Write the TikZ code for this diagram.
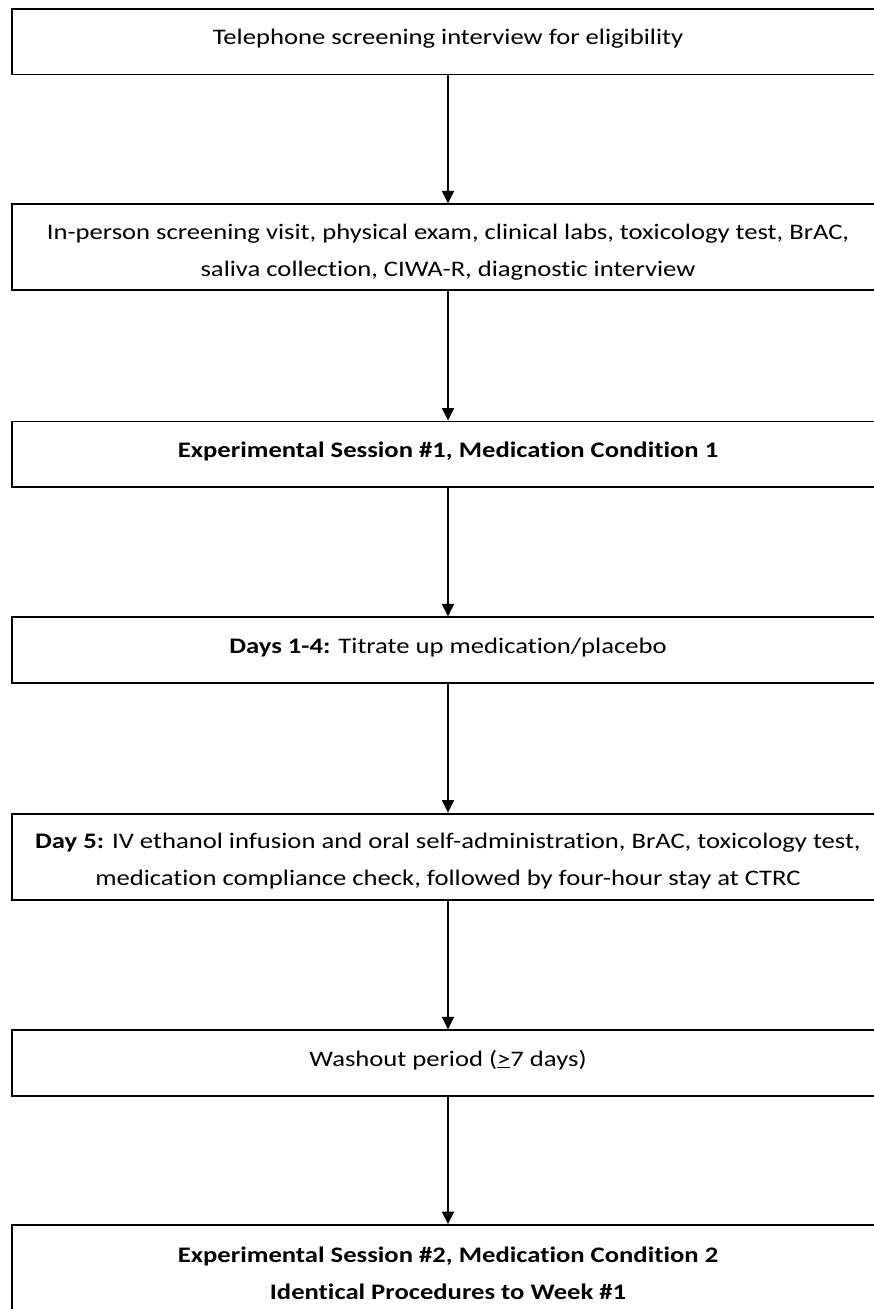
\documentclass[tikz,border=0pt]{standalone}
\usepackage{fontspec}
\setmainfont{Carlito}[Ligatures=NoCommon,FakeStretch=1.2]
\usetikzlibrary{arrows.meta}
% struts that fix the first and last row of a two-row box
\newcommand{\toprow}{\rule{0pt}{28.9pt}}
\newcommand{\lastrow}{\rule[-8pt]{0pt}{8pt}}
\begin{document}
\begin{tikzpicture}[x=1pt,y=-1pt, every node/.style={font=\fontsize{22.2}{37}\selectfont},
  stagebox/.style={draw,line width=1.8pt,minimum width=872pt,inner sep=0pt,align=center},
  onerow/.style={stagebox,minimum height=65.5pt,text height=17pt,text depth=11pt},
  tworow/.style={stagebox,minimum height=86pt},
  flowarrow/.style={line width=1.8pt,-{Triangle[length=12.5pt,width=12pt]}}]
\useasboundingbox (0,0) rectangle (874,1309);
\node[onerow] (tel) at (448,41.65) {Telephone screening interview for eligibility};
\node[tworow] (visit) at (448,247.35) {\toprow In-person screening visit, physical exam, clinical labs, toxicology test, BrAC,\\ saliva collection, CIWA-R, diagnostic interview\lastrow};
\node[onerow] (sess1) at (448,454.2) {\textbf{Experimental Session \#1, Medication Condition 1}};
\node[onerow] (titr) at (448,650) {\textbf{Days 1-4:} Titrate up medication/placebo};
\node[tworow] (day5) at (448,856.6) {\toprow\textbf{Day 5:} IV ethanol infusion and oral self-administration, BrAC, toxicology test,\\ medication compliance check, followed by four-hour stay at CTRC\lastrow};
\node[onerow] (wash) at (448,1063) {Washout period (\underline{>}7 days)};
\node[tworow,minimum height=91.5pt] (sess2) at (448,1270.75) {\toprow\textbf{Experimental Session \#2, Medication Condition 2}\\ \textbf{Identical Procedures to Week \#1}\lastrow};
\draw[flowarrow] (tel) -- (visit);
\draw[flowarrow] (visit) -- (sess1);
\draw[flowarrow] (sess1) -- (titr);
\draw[flowarrow] (titr) -- (day5);
\draw[flowarrow] (day5) -- (wash);
\draw[flowarrow] (wash) -- (sess2);
\end{tikzpicture}
\end{document}
